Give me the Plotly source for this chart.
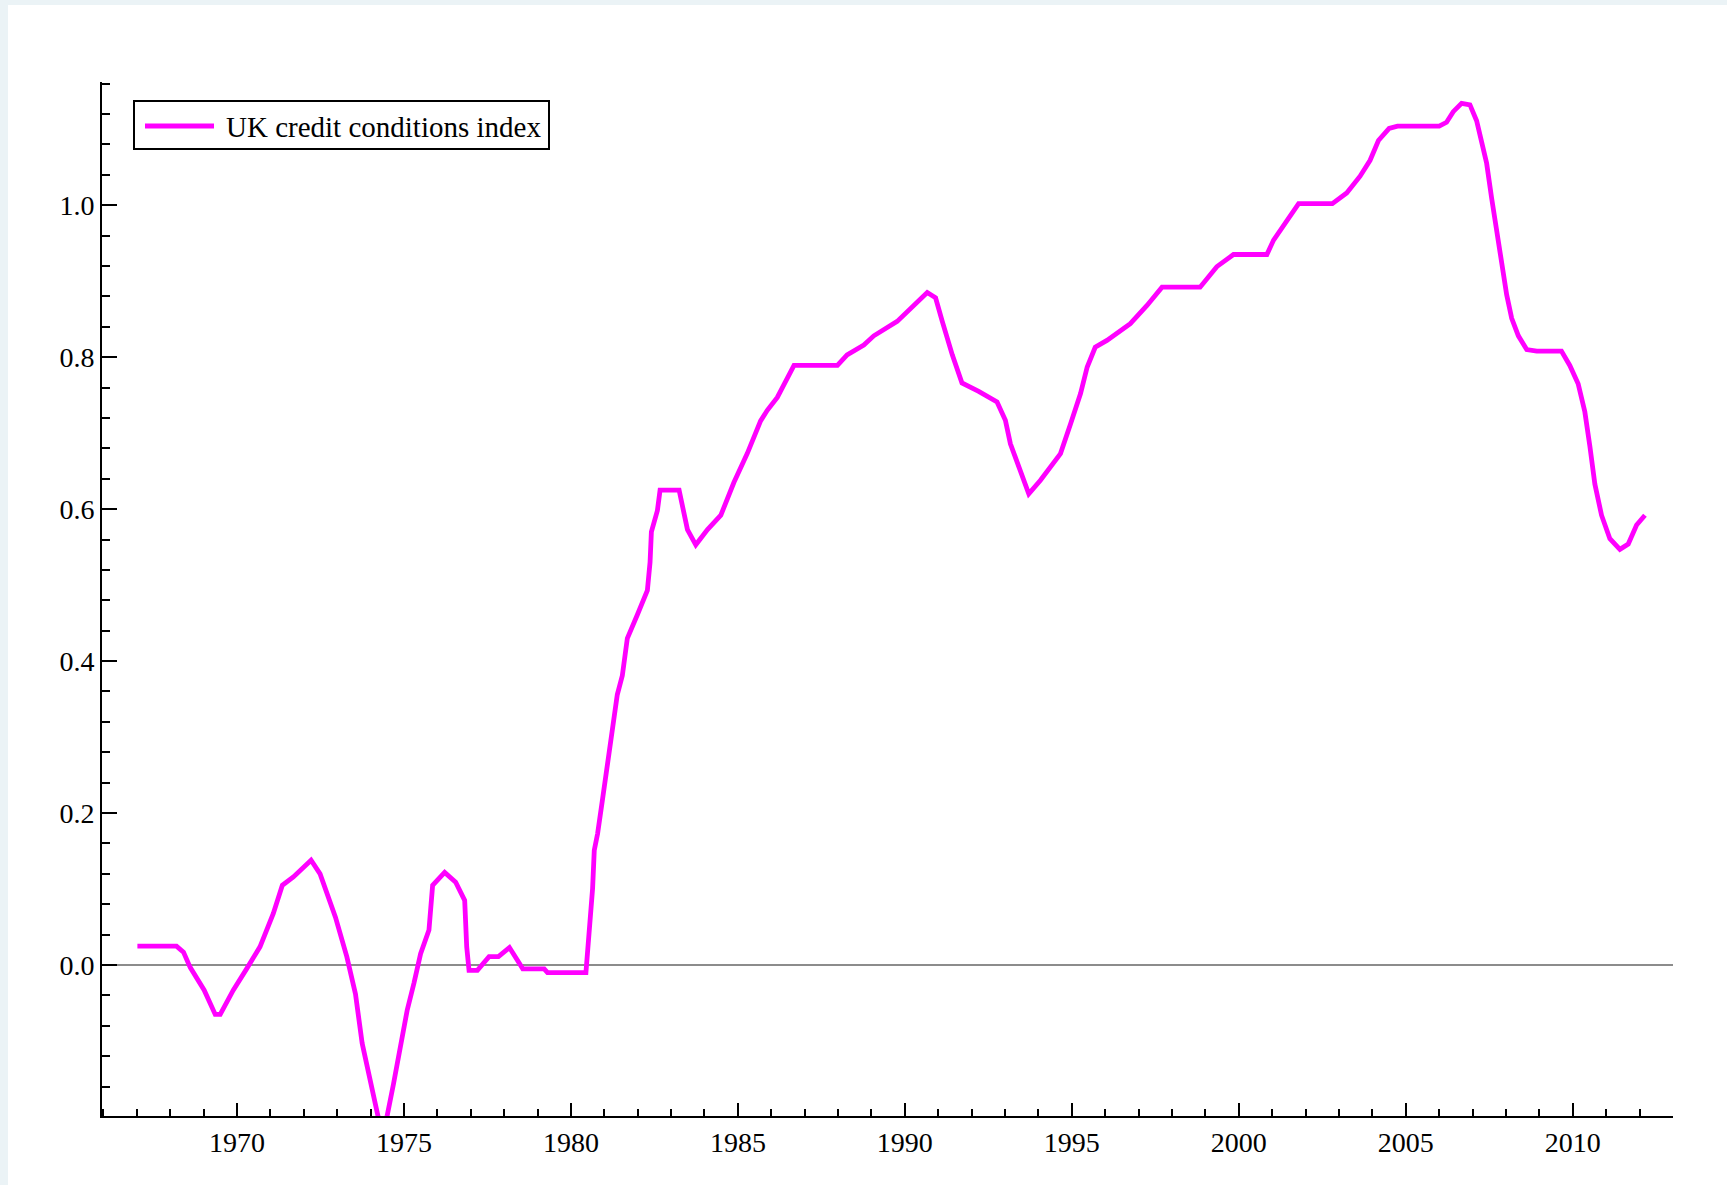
import plotly.graph_objects as go

# UK credit conditions index, quarterly-ish readings (decimal year, index value)
years = [
    1967.02, 1968.19, 1968.40, 1968.60, 1969.02, 1969.35, 1969.50, 1969.89,
    1970.29, 1970.69, 1971.09, 1971.36, 1971.69, 1972.22, 1972.49, 1972.95,
    1973.29, 1973.55, 1973.75, 1974.02, 1974.22, 1974.35, 1974.50, 1974.69,
    1974.90, 1975.10, 1975.30, 1975.50, 1975.75, 1975.86, 1976.22, 1976.55,
    1976.82, 1976.88, 1976.95, 1977.20, 1977.55, 1977.83, 1978.16, 1978.56,
    1979.20, 1979.30, 1980.45, 1980.55, 1980.65, 1980.70, 1980.80, 1980.95,
    1981.10, 1981.25, 1981.39, 1981.54, 1981.69, 1981.99, 1982.29, 1982.37,
    1982.41, 1982.59, 1982.67, 1983.24, 1983.49, 1983.74, 1984.09, 1984.49,
    1984.88, 1985.28, 1985.68, 1985.88, 1986.18, 1986.68, 1987.98, 1988.27,
    1988.77, 1989.07, 1989.77, 1990.67, 1990.92, 1991.12, 1991.42, 1991.71,
    1992.21, 1992.76, 1993.01, 1993.16, 1993.46, 1993.71, 1994.06, 1994.66,
    1994.96, 1995.26, 1995.46, 1995.70, 1996.05, 1996.45, 1996.75, 1997.25,
    1997.70, 1998.84, 1999.34, 1999.84, 2000.84, 2001.04, 2001.44, 2001.79,
    2002.80, 2003.23, 2003.63, 2003.93, 2004.18, 2004.50, 2004.75, 2006.00,
    2006.22, 2006.42, 2006.67, 2006.92, 2007.12, 2007.27, 2007.42, 2007.57,
    2007.72, 2007.87, 2008.02, 2008.17, 2008.37, 2008.62, 2008.92, 2009.66,
    2009.91, 2010.16, 2010.36, 2010.51, 2010.66, 2010.86, 2011.11, 2011.41,
    2011.66, 2011.91, 2012.16,
]
index_values = [
    0.025, 0.025, 0.017, -0.003, -0.033, -0.065, -0.065, -0.033,
    -0.005, 0.024, 0.068, 0.105, 0.116, 0.138, 0.120, 0.063,
    0.011, -0.038, -0.103, -0.156, -0.198, -0.215, -0.198, -0.156,
    -0.103, -0.059, -0.024, 0.015, 0.046, 0.105, 0.122, 0.109,
    0.085, 0.024, -0.007, -0.007, 0.011, 0.011, 0.023, -0.005,
    -0.005, -0.010, -0.010, 0.045, 0.101, 0.151, 0.173, 0.219,
    0.263, 0.312, 0.356, 0.381, 0.430, 0.461, 0.493, 0.530,
    0.570, 0.598, 0.625, 0.625, 0.573, 0.553, 0.573, 0.592,
    0.635, 0.673, 0.716, 0.730, 0.747, 0.789, 0.789, 0.803,
    0.816, 0.828, 0.847, 0.885, 0.878, 0.847, 0.803, 0.766,
    0.755, 0.741, 0.717, 0.686, 0.651, 0.620, 0.638, 0.673,
    0.712, 0.752, 0.787, 0.813, 0.822, 0.835, 0.844, 0.868,
    0.892, 0.892, 0.919, 0.935, 0.935, 0.954, 0.980, 1.002,
    1.002, 1.016, 1.038, 1.059, 1.085, 1.101, 1.104, 1.104,
    1.109, 1.123, 1.134, 1.132, 1.111, 1.086, 1.055, 1.009,
    0.964, 0.928, 0.882, 0.851, 0.828, 0.810, 0.808, 0.808,
    0.789, 0.765, 0.728, 0.683, 0.633, 0.592, 0.561, 0.547,
    0.554, 0.579, 0.592,
]
series_name = "UK credit conditions index"

W, H = 1727, 1185
ML, MR, MT, MB = 102, 54, 82, 69
PW, PH = W - ML - MR, H - MT - MB


def px_x(p):
    return (p - ML) / PW


def px_y(r):
    return (H - MB - r) / PH


SERIF = "Liberation Serif"
MAGENTA = "#ff00ff"

fig = go.Figure()
fig.add_trace(go.Scatter(
    x=years, y=index_values, mode="lines", name=series_name,
    line=dict(color=MAGENTA, width=4.8), showlegend=False,
))

shapes = [
    # pale page border strips (left and top)
    dict(type="rect", xref="paper", yref="paper", layer="below",
         x0=px_x(0), x1=px_x(8), y0=px_y(H), y1=px_y(0),
         fillcolor="#ebf3f6", line=dict(width=0)),
    dict(type="rect", xref="paper", yref="paper", layer="below",
         x0=px_x(0), x1=px_x(W), y0=px_y(5), y1=px_y(0),
         fillcolor="#ebf3f6", line=dict(width=0)),
    # legend frame and swatch
    dict(type="rect", xref="paper", yref="paper",
         x0=px_x(134), x1=px_x(549), y0=px_y(149), y1=px_y(101),
         fillcolor="white", line=dict(color="black", width=2)),
    dict(type="line", xref="paper", yref="paper",
         x0=px_x(145), x1=px_x(214), y0=px_y(126), y1=px_y(126),
         line=dict(color=MAGENTA, width=4.8)),
]

annotations = [
    dict(xref="paper", yref="paper", x=px_x(224), y=px_y(127),
         xanchor="left", yanchor="middle", showarrow=False,
         text=series_name, font=dict(family=SERIF, size=29, color="black")),
]

fig.update_layout(
    width=W, height=H,
    margin=dict(l=ML, r=MR, t=MT, b=MB, pad=0),
    paper_bgcolor="white", plot_bgcolor="white",
    shapes=shapes, annotations=annotations,
    font=dict(family=SERIF, size=28, color="black"),
    xaxis=dict(
        range=[1965.96, 2013.0], tick0=1970, dtick=5,
        ticks="inside", ticklen=13, tickwidth=2, tickcolor="black",
        showline=True, linecolor="black", linewidth=2,
        showgrid=False, zeroline=False,
        tickfont=dict(family=SERIF, size=28, color="black"),
        minor=dict(tick0=1970, dtick=1, ticks="inside", ticklen=7,
                   tickwidth=2, tickcolor="black", showgrid=False),
    ),
    yaxis=dict(
        range=[-0.1986, 1.162], tick0=0, dtick=0.2, tickformat=".1f",
        ticks="inside", ticklen=15, tickwidth=2, tickcolor="black",
        showline=True, linecolor="black", linewidth=2,
        showgrid=False,
        zeroline=True, zerolinecolor="#8c8c8c", zerolinewidth=2,
        tickfont=dict(family=SERIF, size=28, color="black"),
        minor=dict(tick0=0, dtick=0.04, ticks="inside", ticklen=8,
                   tickwidth=2, tickcolor="black", showgrid=False),
    ),
)

fig.write_html("out.html")
